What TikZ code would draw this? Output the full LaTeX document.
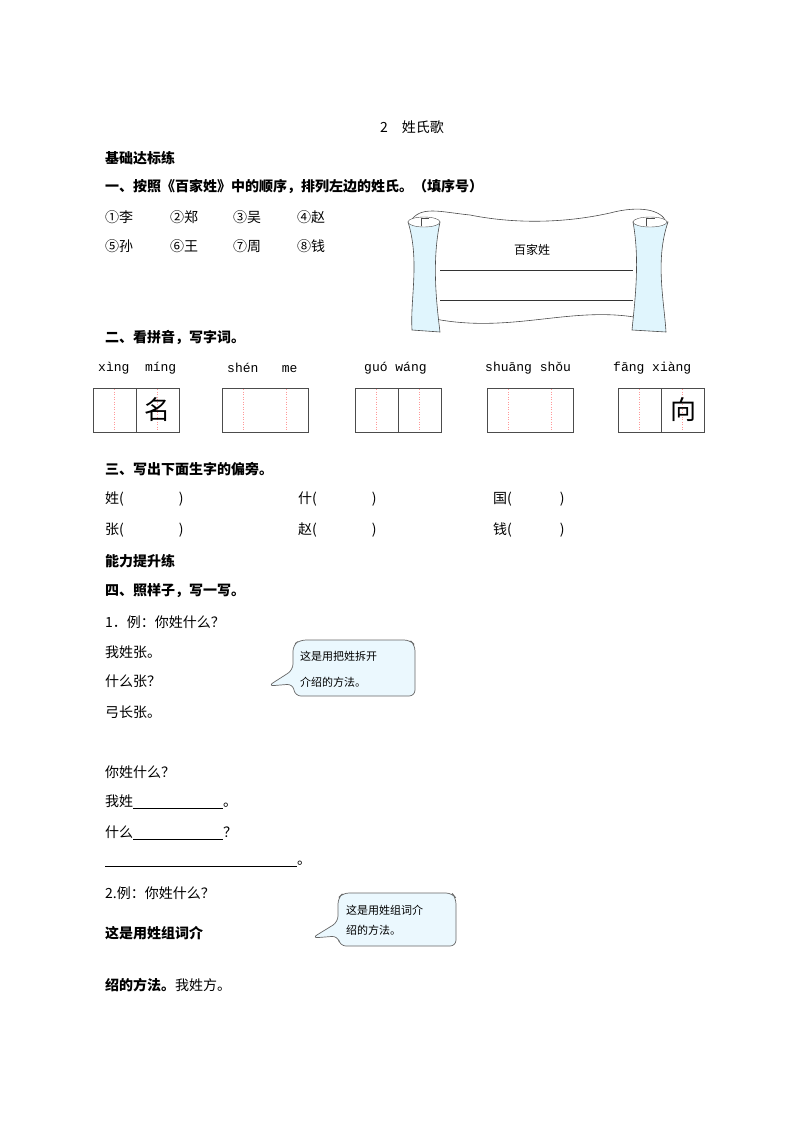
\documentclass[tikz,border=0pt]{standalone}
\usepackage{fontspec}
\setmainfont{Noto Sans CJK SC}
\newfontfamily\pyfont{Liberation Mono}
\begin{document}
\begin{tikzpicture}[x=1pt,y=-1pt,
 t/.style={anchor=west,inner sep=0,font=\fontsize{14}{14}\selectfont},
 tb/.style={t,font=\fontsize{14}{14}\selectfont\bfseries},
 py/.style={anchor=west,inner sep=0,font=\pyfont\fontsize{13}{13}\selectfont},
 gridbox/.style={draw=black!70,line width=0.7pt},
 gdash/.style={draw=red!40,dotted,line width=0.5pt},
 callout/.style={draw=black!60,fill=cyan!8,line width=0.7pt,rounded corners=6pt},
 ct/.style={anchor=west,inner sep=0,font=\fontsize{11}{11}\selectfont}]
\useasboundingbox (0,0) rectangle (800,1132);
\node[t,anchor=center] (title) at (412,127) {2\quad 姓氏歌};
\node[tb] (s1) at (105,158) {基础达标练};
\node[tb] (q1) at (105,187) {一、按照《百家姓》中的顺序，排列左边的姓氏。（填序号）};
\foreach \x/\s [count=\i] in {105/①李,170/②郑,233/③吴,297/④赵}{\node[t] (a\i) at (\x,217) {\s};}
\foreach \x/\s [count=\i] in {105/⑤孙,170/⑥王,233/⑦周,297/⑧钱}{\node[t] (b\i) at (\x,246) {\s};}
% scroll
\draw[black!70,line width=0.6pt] (410,222) .. controls (420,205) and (440,212) .. (470,215) .. controls (520,225) and (570,222) .. (610,213) .. controls (640,205) and (662,210) .. (666,222);
\draw[black!70,line width=0.6pt] (430,318) .. controls (510,335) and (570,305) .. (640,318);
\draw[black!70,fill=cyan!12,line width=0.6pt] (408,222) .. controls (420,260) and (410,300) .. (412,330) -- (440,332) .. controls (436,300) and (432,260) .. (440,222) -- cycle;
\draw[black!70,fill=cyan!12,line width=0.6pt] (633,222) .. controls (640,260) and (635,300) .. (632,330) -- (666,332) .. controls (664,300) and (655,260) .. (668,222) -- cycle;
\draw[black!70,fill=white] (424,222) ellipse (16 and 5);
\draw[black!70,fill=white] (650,222) ellipse (17 and 5);
\draw[black!70] (421,226) -- (421,218) -- (429,218);
\draw[black!70] (646,226) -- (646,218) -- (655,218);
\node[anchor=center,inner sep=0,font=\fontsize{12}{12}\selectfont] (bjx) at (532,250) {百家姓};
\draw[black!80,line width=0.7pt] (440,270) -- (633,270);
\draw[black!80,line width=0.7pt] (440,300) -- (633,300);
\node[tb] (q2) at (105,338) {二、看拼音，写字词。};
\node[py] (p1) at (98,368) {xìng\ \ míng};
\node[py] (p2) at (227,368) {shén\ \ \ me};
\node[py] (p3) at (364,368) {guó wáng};
\node[py] (p4) at (485,368) {shuāng shǒu};
\node[py] (p5) at (613,368) {fāng xiàng};
\foreach \x/\m in {93/1,222/0,355/1,487/0,618/1}{
  \draw[gdash] (\x+21.5,389) -- (\x+21.5,431);
  \draw[gdash] (\x+64.5,389) -- (\x+64.5,431);
  \draw[gridbox] (\x,388) rectangle (\x+86,432);
  \ifnum\m=1 \draw[gridbox] (\x+43,388) -- (\x+43,432); \fi
}
\node[anchor=center,inner sep=0,font=\fontsize{26}{26}\selectfont] (ming) at (157,410) {名};
\node[anchor=center,inner sep=0,font=\fontsize{26}{26}\selectfont] (xiang) at (683,410) {向};
\node[tb] (q3) at (105,469) {三、写出下面生字的偏旁。};
\node[t] (c1) at (105,499) {姓(\hspace{55pt})};
\node[t] (c2) at (298,499) {什(\hspace{55pt})};
\node[t] (c3) at (493,499) {国(\hspace{48pt})};
\node[t] (c4) at (105,530) {张(\hspace{55pt})};
\node[t] (c5) at (298,530) {赵(\hspace{55pt})};
\node[t] (c6) at (493,530) {钱(\hspace{48pt})};
\node[tb] (s2) at (105,561) {能力提升练};
\node[tb] (q4) at (105,591) {四、照样子，写一写。};
\node[t] (e1) at (105,622) {1．例：你姓什么？};
\node[t] (e2) at (105,652) {我姓张。};
\node[t] (e3) at (105,681) {什么张？};
\node[t] (e4) at (105,712) {弓长张。};
\draw[callout] (300,640) -- (410,640) -- (415,645) -- (415,696) -- (295,696) -- (293,684) -- (268,686) -- (293,670) -- (293,645) -- cycle;
\node[ct] (k1) at (300,656) {这是用把姓拆开};
\node[ct] (k2) at (300,682) {介绍的方法。};
\node[t] (f1) at (105,772) {你姓什么？};
\node[t] (f2) at (105,802) {我姓\underline{\hspace{90pt}}。};
\node[t] (f3) at (105,833) {什么\underline{\hspace{90pt}}？};
\node[t] (f4) at (105,864) {\underline{\hspace{192pt}}。};
\node[t] (g1) at (105,893) {2.例：你姓什么？};
\node[tb] (g2) at (105,933) {这是用姓组词介};
\draw[callout] (343,893) -- (452,893) -- (456,898) -- (456,946) -- (340,946) -- (338,936) -- (312,938) -- (338,922) -- (338,898) -- cycle;
\node[ct] (k3) at (346,910) {这是用姓组词介};
\node[ct] (k4) at (346,930) {绍的方法。};
\node[t] (h1) at (105,985) {\textbf{绍的方法。}我姓方。};
\end{tikzpicture}
\end{document}
